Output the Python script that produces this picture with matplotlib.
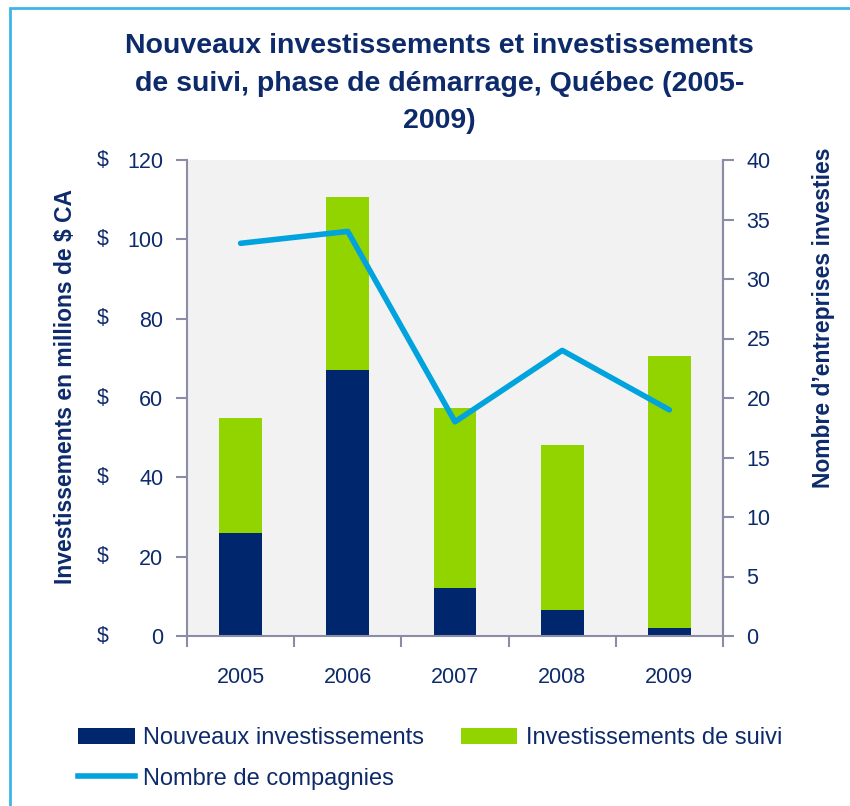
import matplotlib.pyplot as plt
from matplotlib.patches import Rectangle
from matplotlib.lines import Line2D
from matplotlib.patches import Patch
import numpy as np

# ==========================================================
# DATA
# ==========================================================

years = ['2005', '2006', '2007', '2008', '2009']
nouveaux = [26, 67, 12, 6.5, 2]
suivi_total = [55, 110.7, 57.4, 48.1, 70.6]
suivi = [t - n for t, n in zip(suivi_total, nouveaux)]
compagnies = [33, 34, 18, 24, 19]

left_ticks = [0, 20, 40, 60, 80, 100, 120]
right_ticks = [0, 5, 10, 15, 20, 25, 30, 35, 40]

# ==========================================================
# STYLE
# ==========================================================

navy = '#00266e'
green = '#92d400'
cyan = '#00a3dd'
text_col = '#0d2a6b'
spine_col = '#8c8ca8'

plt.rcParams['font.family'] = ['Liberation Sans', 'DejaVu Sans']

fig = plt.figure(figsize=(8.5, 8.06), dpi=100)
ax = fig.add_axes([187 / 850, 1 - 636 / 806, (723 - 187) / 850, (636 - 160) / 806])
ax.set_facecolor('#f2f2f2')

x = np.arange(len(years))
ax.bar(x, nouveaux, width=0.4, color=navy, zorder=2)
ax.bar(x, suivi, width=0.4, bottom=nouveaux, color=green, zorder=2)

ax.set_xlim(-0.5, len(years) - 0.5)
ax.set_ylim(0, 120)
ax.set_yticks(left_ticks)
ax.set_yticklabels([str(v) for v in left_ticks])
for v in left_ticks:
    ax.text(-0.168, v, '\\$', transform=ax.get_yaxis_transform(),
            ha='left', va='center', fontsize=15.5, color=text_col)

ax.set_xticks(x)
ax.set_xticklabels(years)
ax.set_xticks(np.arange(-0.5, len(years)), minor=True)
ax.tick_params(axis='x', which='major', length=0, pad=22)
ax.tick_params(axis='x', which='minor', length=8, color=spine_col, width=1.5)
ax.tick_params(axis='y', length=8, color=spine_col, width=1.5, pad=9)
for lab in ax.get_xticklabels() + ax.get_yticklabels():
    lab.set_fontsize(15.5)
    lab.set_color(text_col)

for side in ['left', 'bottom', 'right']:
    ax.spines[side].set_color(spine_col)
    ax.spines[side].set_linewidth(1.5)
ax.spines['top'].set_visible(False)

ax.set_ylabel('Investissements en millions de \\$ CA', fontsize=16.5, fontweight='bold',
              color=text_col)
ax.yaxis.set_label_coords(-0.205, 0.525)

ax2 = ax.twinx()
ax2.plot(x, compagnies, color=cyan, linewidth=4, solid_capstyle='round', zorder=3)
ax2.set_ylim(0, 40)
ax2.set_yticks(right_ticks)
ax2.tick_params(axis='y', length=8, color=spine_col, width=1.5, pad=9)
for lab in ax2.get_yticklabels():
    lab.set_fontsize(15.5)
    lab.set_color(text_col)
for side in ['left', 'bottom', 'top']:
    ax2.spines[side].set_visible(False)
ax2.spines['right'].set_color(spine_col)
ax2.spines['right'].set_linewidth(1.5)
ax2.set_ylabel('Nombre d\u2019entreprises investies', fontsize=16.5, fontweight='bold',
               color=text_col, rotation=90)
ax2.yaxis.set_label_coords(1.166, 0.668)

fig.text(0.517, 0.959,
         'Nouveaux investissements et investissements\nde suivi, phase de démarrage, Québec (2005-\n2009)',
         ha='center', va='top', fontsize=20.5, fontweight='bold', color=text_col,
         linespacing=1.58)

handles = [
    Patch(facecolor=navy, label='Nouveaux investissements'),
    Line2D([0], [0], color=cyan, linewidth=4, label='Nombre de compagnies'),
    Patch(facecolor=green, label='Investissements de suivi'),
]
leg = fig.legend(handles=handles, ncol=2, loc='upper left',
                 bbox_to_anchor=(57 / 850, 1 - 706 / 806), frameon=False,
                 fontsize=17, handlelength=2.4, handleheight=0.7,
                 handletextpad=0.35, columnspacing=1.55, labelspacing=0.78)
for t in leg.get_texts():
    t.set_color(text_col)

fig.patches.append(Rectangle((10 / 850, -0.05), 1.2, 1 - 8 / 806 + 0.05,
                             transform=fig.transFigure, fill=False,
                             edgecolor='#3fb4e6', linewidth=2))

fig.savefig('out.png', dpi=100)
